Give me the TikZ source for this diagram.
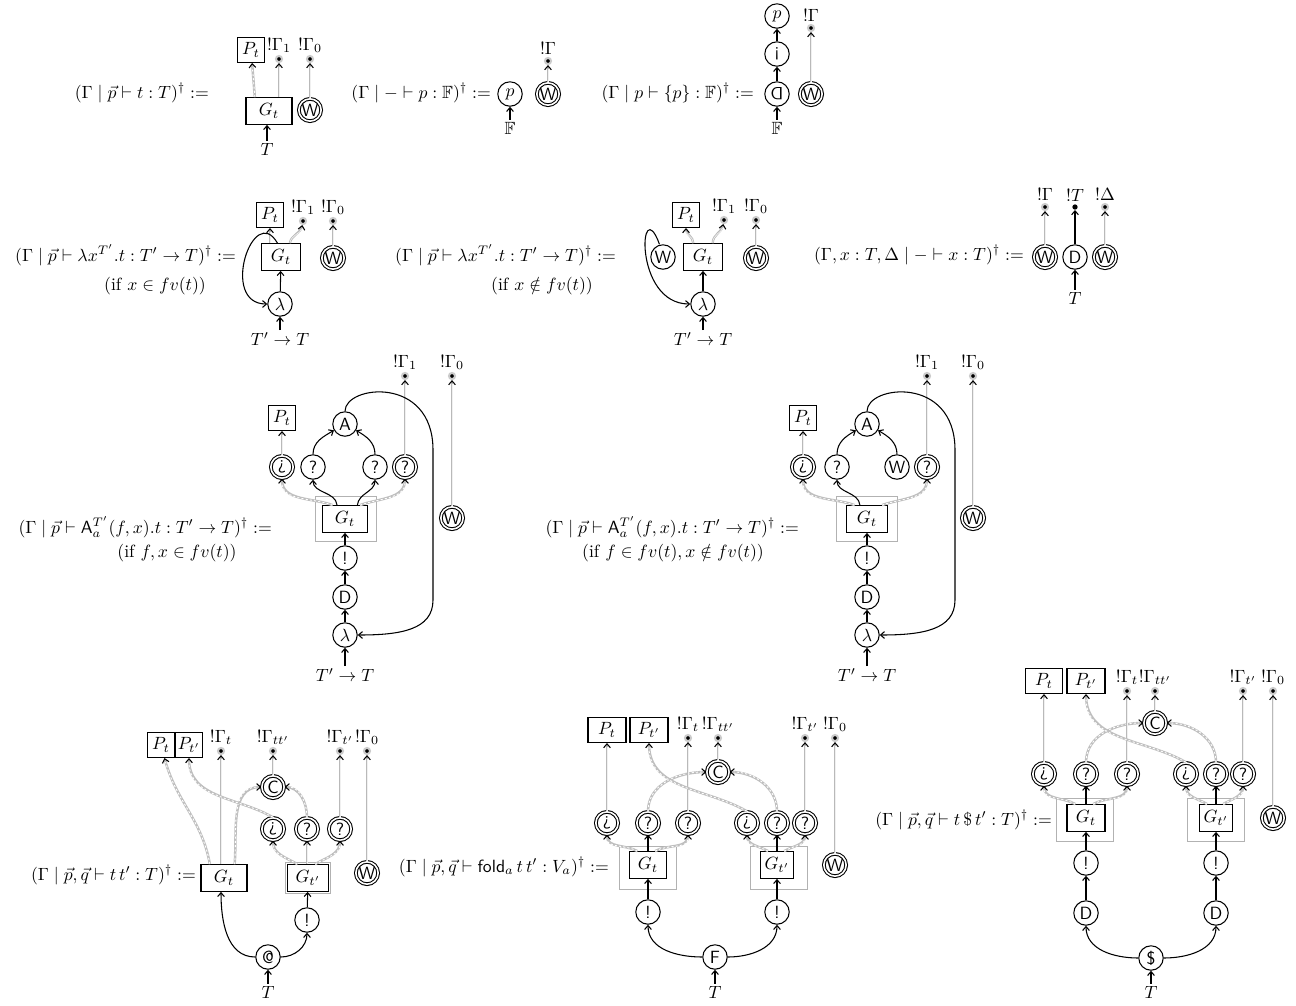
\documentclass[tikz,border=0pt]{standalone}
\usepackage{amsmath,amssymb}
\usepackage{graphicx}
\usetikzlibrary{arrows.meta,positioning}

\begin{document}
\begin{tikzpicture}[
  x=0.565pt,y=0.565pt,
  >={Straight Barb[length=2.2pt,width=3.8pt,line width=0.6pt,color=black]},
  gate/.style={circle,draw,line width=0.6pt,minimum size=13.8pt,inner sep=0pt,font=\sffamily},
  egate/.style={gate,double,double distance=0.9pt,minimum size=12.6pt},
  box/.style={draw,line width=0.7pt,minimum width=22pt,minimum height=15pt,inner sep=1.5pt},
  pbox/.style={draw,line width=0.7pt,minimum width=15pt,minimum height=14pt,inner sep=1.2pt},
  gbox/.style={draw=gray!60,line width=0.6pt,inner sep=0pt},
  term/.style={circle,fill=black,draw=gray!40,line width=1.15pt,inner sep=0pt,minimum size=3.45pt},
  bang/.style={term,label={[lab]above:$!#1$}},
  tdot/.style={circle,fill=black,inner sep=0pt,minimum size=3pt},
  lab/.style={inner sep=1pt},
  rule/.style={anchor=east,inner sep=1pt},
  arr/.style={->,line width=0.6pt},
  garr/.style={->,draw=gray!55,line width=1.3pt,postaction={draw=gray!12,line width=0.4pt,-,shorten >=2.4pt}},
  darr/.style={->,draw=gray!50,line width=1.4pt,postaction={draw=white,line width=0.5pt,-,dash pattern=on 1.2pt off 1.2pt,shorten >=2.4pt}}
]
\useasboundingbox (0,0) rectangle (1296,-1005);

% (Gamma | p |- t : T)
\node[rule] (r1) at (211,-93) {$(\Gamma \mid \vec{p} \vdash t : T)^\dagger :=$};
\node[pbox] (p1) at (251,-50) {$P_t$};
\node[bang=\Gamma_1] (d1a) at (279,-59) {};
\node[bang=\Gamma_0] (d1b) at (310,-59) {};
\node[box,minimum width=26pt] (g1) at (269,-111) {$G_t$};
\node[egate] (w1) at (310,-110) {W};
\node[lab] (t1) at (267,-149) {$T$};
\draw[arr] (t1) -- (t1 |- g1.south);
\draw[darr] ([xshift=-8pt]g1.north) -- (p1);
\draw[garr] (g1.north -| d1a) -- (d1a);
\draw[garr] (w1) -- (d1b);

% (Gamma | - |- p : F)
\node[rule] (r2) at (493,-93) {$(\Gamma \mid - \vdash p : \mathbb{F})^\dagger :=$};
\node[gate] (p2) at (510,-94) {$p$};
\node[lab] (f2) at (510,-128) {$\mathbb{F}$};
\node[egate] (w2) at (548,-94) {W};
\node[bang=\Gamma] (d2) at (548,-61) {};
\draw[arr] (f2) -- (p2);
\draw[garr] (w2) -- (d2);

% (Gamma | p |- {p} : F)
\node[rule] (r3) at (756,-93) {$(\Gamma \mid p \vdash \{p\} : \mathbb{F})^\dagger :=$};
\node[gate] (u3) at (777,-94) {\rotatebox[origin=c]{180}{D}};
\node[gate] (i3) at (777,-54) {¡};
\node[gate] (p3) at (777,-16) {$p$};
\node[lab] (f3) at (777,-128) {$\mathbb{F}$};
\node[egate] (w3) at (811,-94) {W};
\node[bang=\Gamma] (d3) at (811,-28) {};
\draw[arr] (f3) -- (u3);
\draw[arr] (u3) -- (i3);
\draw[arr] (i3) -- (p3);
\draw[garr] (w3) -- (d3);

% lambda, x in fv(t)
\node[rule] (r4) at (238,-255) {$(\Gamma \mid \vec{p} \vdash \lambda x^{T'}.t : T' \to T)^\dagger :=$};
\node[lab] (c4) at (155,-286) {(if $x \in fv(t)$)};
\node[pbox] (p4) at (270,-215) {$P_t$};
\node[bang=\Gamma_1] (d4a) at (303,-221) {};
\node[bang=\Gamma_0] (d4b) at (333,-221) {};
\node[box] (g4) at (281,-257) {$G_t$};
\node[egate] (w4) at (333,-258) {W};
\node[gate] (l4) at (280,-304) {$\lambda$};
\node[lab] (t4) at (280,-339) {$T' \to T$};
\draw[arr] (t4) -- (l4);
\draw[arr] (l4) -- (g4);
\draw[garr] (g4.north -| p4) -- (p4);
\draw[garr] ([xshift=5pt]g4.north) to[out=80,in=-100] (d4a);
\draw[garr] (w4) -- (d4b);
\draw[arr] ([xshift=-2pt]g4.north) to[out=120,in=180,looseness=2] (l4.west);

% lambda, x not in fv(t)
\node[rule] (r5) at (618,-255) {$(\Gamma \mid \vec{p} \vdash \lambda x^{T'}.t : T' \to T)^\dagger :=$};
\node[lab] (c5) at (542,-286) {(if $x \notin fv(t)$)};
\node[pbox] (p5) at (686,-215) {$P_t$};
\node[bang=\Gamma_1] (d5a) at (724,-220) {};
\node[bang=\Gamma_0] (d5b) at (756,-220) {};
\node[gate] (v5) at (663,-257) {W};
\node[box] (g5) at (703,-257) {$G_t$};
\node[egate] (w5) at (756,-258) {W};
\node[gate] (l5) at (703,-304) {$\lambda$};
\node[lab] (t5) at (703,-339) {$T' \to T$};
\draw[arr] (t5) -- (l5);
\draw[arr] (l5) -- (g5);
\draw[garr] ([xshift=-5.5pt]g5.north) to[out=90,in=-90] (p5);
\draw[garr] ([xshift=5.5pt]g5.north) to[out=90,in=-100] (d5a);
\draw[garr] (w5) -- (d5b);
\draw[arr] ([xshift=-2pt]v5.north) to[out=110,in=180,looseness=2.2] (l5.west);

% variable
\node[rule] (r6) at (1026,-255) {$(\Gamma, x : T, \Delta \mid - \vdash x : T)^\dagger :=$};
\node[egate] (w6a) at (1045,-257) {W};
\node[gate] (x6) at (1075,-257) {D};
\node[egate] (w6b) at (1105,-257) {W};
\node[bang=\Gamma] (d6a) at (1045,-207) {};
\node[tdot,label={[lab]above:$!T$}] (d6b) at (1075,-207) {};
\node[bang=\Delta] (d6c) at (1105,-207) {};
\node[lab] (t6) at (1075,-298) {$T$};
\draw[arr] (t6) -- (x6);
\draw[arr] (x6) -- (d6b);
\draw[garr] (w6a) -- (d6a);
\draw[garr] (w6b) -- (d6c);

% A, f and x in fv(t)
\node[rule] (r7) at (274,-527) {$(\Gamma \mid \vec{p} \vdash \mathsf{A}_a^{T'}(f,x).t : T' \to T)^\dagger :=$};
\node[lab] (c7) at (177,-553) {(if $f, x \in fv(t)$)};
\node[pbox] (p7) at (282,-418) {$P_t$};
\node[gate] (a7) at (345,-424) {A};
\node[egate] (e7a) at (282,-467) {¿};
\node[gate] (q7a) at (313,-467) {?};
\node[gate] (q7b) at (375,-467) {?};
\node[egate] (e7b) at (405,-467) {?};
\node[bang=\Gamma_1] (d7a) at (405,-376) {};
\node[bang=\Gamma_0] (d7b) at (452,-376) {};
\node[egate] (w7) at (452,-518) {W};
\node[gbox,minimum width=34.5pt,minimum height=25pt] (b7) at (346,-519) {};
\node[box,minimum width=25pt] (g7) at (345,-519) {$G_t$};
\node[gate] (o7) at (345,-558) {!};
\node[gate] (x7) at (345,-597) {D};
\node[gate] (l7) at (345,-635) {$\lambda$};
\node[lab] (t7) at (345,-675) {$T' \to T$};
\draw[arr] (t7) -- (l7);
\draw[arr] (l7) -- (x7);
\draw[arr] (x7) -- (o7);
\draw[arr] (o7) -- (g7);
\draw[arr] ([xshift=-4.5pt]g7.north) to[out=95,in=-90] (q7a);
\draw[arr] ([xshift=7pt]g7.north) to[out=85,in=-90] (q7b);
\draw[darr] ([xshift=-7pt]g7.north) to[out=160,in=-90] (e7a);
\draw[darr] ([xshift=8.5pt]g7.north) to[out=20,in=-90] (e7b);
\draw[arr] (q7a) to[out=90,in=210] (a7);
\draw[arr] (q7b) to[out=90,in=-30] (a7);
\draw[garr] (e7a) -- (p7);
\draw[garr] (e7b) -- (d7a);
\draw[garr] (w7) -- (d7b);
\draw[arr] (a7.north) .. controls (345,-385) and (433,-375) .. (433,-450) -- (433,-600) .. controls (433,-630) and (400,-635) .. (l7.east);

% A, f in fv(t), x not in fv(t)
\node[rule] (r8) at (801,-527) {$(\Gamma \mid \vec{p} \vdash \mathsf{A}_a^{T'}(f,x).t : T' \to T)^\dagger :=$};
\node[lab] (c8) at (673,-553) {(if $f \in fv(t), x \notin fv(t)$)};
\node[pbox] (p8) at (803,-418) {$P_t$};
\node[gate] (a8) at (867,-424) {A};
\node[egate] (e8a) at (803,-467) {¿};
\node[gate] (q8a) at (837,-467) {?};
\node[gate] (v8) at (897,-467) {W};
\node[egate] (e8b) at (927,-467) {?};
\node[bang=\Gamma_1] (d8a) at (927,-376) {};
\node[bang=\Gamma_0] (d8b) at (973,-376) {};
\node[egate] (w8) at (973,-518) {W};
\node[gbox,minimum width=34.5pt,minimum height=25pt] (b8) at (867,-519) {};
\node[box,minimum width=23.5pt] (g8) at (867,-519) {$G_t$};
\node[gate] (o8) at (867,-558) {!};
\node[gate] (x8) at (867,-597) {D};
\node[gate] (l8) at (867,-635) {$\lambda$};
\node[lab] (t8) at (867,-675) {$T' \to T$};
\draw[arr] (t8) -- (l8);
\draw[arr] (l8) -- (x8);
\draw[arr] (x8) -- (o8);
\draw[arr] (o8) -- (g8);
\draw[arr] ([xshift=-4pt]g8.north) to[out=95,in=-90] (q8a);
\draw[darr] ([xshift=-7pt]g8.north) to[out=160,in=-90] (e8a);
\draw[darr] ([xshift=8.5pt]g8.north) to[out=20,in=-90] (e8b);
\draw[arr] (q8a) to[out=90,in=210] (a8);
\draw[arr] (v8) to[out=90,in=-30] (a8);
\draw[garr] (e8a) -- (p8);
\draw[garr] (e8b) -- (d8a);
\draw[garr] (w8) -- (d8b);
\draw[arr] (a8.north) .. controls (867,-385) and (955,-375) .. (955,-450) -- (955,-600) .. controls (955,-630) and (922,-635) .. (l8.east);

% application
\node[rule] (r9) at (198,-875) {$(\Gamma \mid \vec{p},\vec{q} \vdash t\,t' : T)^\dagger :=$};
\node[pbox] (p9a) at (161,-745) {$P_t$};
\node[pbox] (p9b) at (189,-745) {$P_{t'}$};
\node[bang=\Gamma_t] (d9a) at (221,-751) {};
\node[bang=\Gamma_{tt'}] (d9b) at (273,-751) {};
\node[bang=\Gamma_{t'}] (d9c) at (340,-751) {};
\node[bang=\Gamma_0] (d9d) at (367,-751) {};
\node[egate] (k9) at (273,-787) {C};
\node[egate] (e9a) at (273,-829) {¿};
\node[egate] (e9b) at (307,-829) {?};
\node[egate] (e9c) at (340,-829) {?};
\node[box,minimum width=26pt] (g9a) at (224,-878) {$G_t$};
\node[gbox,minimum width=25pt,minimum height=17.5pt] (b9) at (308,-878) {};
\node[box,minimum width=23pt] (g9b) at (308,-878) {$G_{t'}$};
\node[egate] (w9) at (367,-873) {W};
\node[gate] (o9) at (307,-920) {!};
\node[gate] (m9) at (268,-957) {@};
\node[lab] (t9) at (268,-992) {$T$};
\draw[arr] (t9) -- (m9);
\draw[arr] (m9.west) to[out=180,in=-90] (g9a.south -| d9a);
\draw[arr] (m9.east) to[out=0,in=-90] (o9);
\draw[arr] (o9) -- (g9b);
\draw[darr] ([xshift=-8pt]g9a.north) to[out=100,in=-75] (p9a);
\draw[garr] (g9a.north -| d9a) -- (d9a);
\draw[darr] ([xshift=6pt]g9a.north) to[out=85,in=180] (k9);
\draw[darr] ([xshift=-6pt]g9b.north) to[out=150,in=-90] (e9a);
\draw[garr] (g9b.north -| e9b) -- (e9b);
\draw[darr] ([xshift=4pt]g9b.north) to[out=30,in=-90] (e9c);
\draw[darr] (e9a.north) to[out=150,in=-90] (p9b);
\draw[darr] (e9b) to[out=90,in=0] (k9);
\draw[garr] (e9c) -- (d9c);
\draw[garr] (k9) -- (d9b);
\draw[garr] (w9) -- (d9d);

% fold
\node[rule] (r10) at (611,-867) {$(\Gamma \mid \vec{p},\vec{q} \vdash \mathsf{fold}_a\,t\,t' : V_a)^\dagger :=$};
\node[pbox,minimum width=21.5pt] (p10a) at (607,-730) {$P_t$};
\node[pbox,minimum width=21.5pt] (p10b) at (649,-730) {$P_{t'}$};
\node[bang=\Gamma_t] (d10a) at (688,-738) {};
\node[bang=\Gamma_{tt'}] (d10b) at (718,-738) {};
\node[bang=\Gamma_{t'}] (d10c) at (805,-738) {};
\node[bang=\Gamma_0] (d10d) at (835,-738) {};
\node[egate] (k10) at (718,-772) {C};
\node[egate] (e10a) at (607,-823) {¿};
\node[egate] (e10b) at (648,-823) {?};
\node[egate] (e10c) at (688,-823) {?};
\node[egate] (e10d) at (747,-823) {¿};
\node[egate] (e10e) at (777,-823) {?};
\node[egate] (e10f) at (805,-823) {?};
\node[gbox,minimum width=32pt,minimum height=24.5pt] (b10a) at (648,-868) {};
\node[gbox,minimum width=32pt,minimum height=24.5pt] (b10b) at (779,-868) {};
\node[box,minimum width=21pt] (g10a) at (648,-865) {$G_t$};
\node[box,minimum width=18.5pt] (g10b) at (777,-865) {$G_{t'}$};
\node[egate] (w10) at (835,-865) {W};
\node[gate] (o10a) at (648,-912) {!};
\node[gate] (o10b) at (777,-912) {!};
\node[gate] (f10) at (715,-957) {F};
\node[lab] (t10) at (715,-992) {$T$};
\draw[arr] (t10) -- (f10);
\draw[arr] (f10.west) to[out=180,in=-90] (o10a);
\draw[arr] (f10.east) to[out=0,in=-90] (o10b);
\draw[arr] (o10a) -- (g10a);
\draw[arr] (o10b) -- (g10b);
\draw[darr] ([xshift=-6pt]g10a.north) to[out=150,in=-90] (e10a);
\draw[arr] (g10a) -- (e10b);
\draw[darr] ([xshift=4pt]g10a.north) to[out=30,in=-90] (e10c);
\draw[darr] ([xshift=-5pt]g10b.north) to[out=150,in=-90] (e10d);
\draw[arr] (g10b) -- (e10e);
\draw[darr] ([xshift=4pt]g10b.north) to[out=30,in=-90] (e10f);
\draw[garr] (e10a) -- (p10a);
\draw[darr] (e10b) to[out=90,in=180] (k10);
\draw[garr] (e10c) -- (d10a);
\draw[darr] (e10d.north) to[out=150,in=-90] (p10b);
\draw[darr] (e10e) to[out=90,in=0] (k10);
\draw[garr] (e10f) -- (d10c);
\draw[garr] (k10) -- (d10b);
\draw[garr] (w10) -- (d10d);

% strict application
\node[rule] (r11) at (1054,-820) {$(\Gamma \mid \vec{p},\vec{q} \vdash t\,\$\,t' : T)^\dagger :=$};
\node[pbox,minimum width=20.5pt] (p11a) at (1044,-681) {$P_t$};
\node[pbox,minimum width=21.5pt] (p11b) at (1086,-681) {$P_{t'}$};
\node[bang=\Gamma_t] (d11a) at (1127,-691) {};
\node[bang=\Gamma_{tt'}] (d11b) at (1155,-691) {};
\node[bang=\Gamma_{t'}] (d11c) at (1243,-691) {};
\node[bang=\Gamma_0] (d11d) at (1273,-691) {};
\node[egate] (k11) at (1155,-723) {C};
\node[egate] (e11a) at (1044,-774) {¿};
\node[egate] (e11b) at (1086,-774) {?};
\node[egate] (e11c) at (1127,-774) {?};
\node[egate] (e11d) at (1186,-774) {¿};
\node[egate] (e11e) at (1216,-774) {?};
\node[egate] (e11f) at (1243,-774) {?};
\node[gbox,minimum width=32pt,minimum height=24.5pt] (b11a) at (1085,-820) {};
\node[gbox,minimum width=32pt,minimum height=24.5pt] (b11b) at (1216,-820) {};
\node[box,minimum width=21.5pt] (g11a) at (1086,-818) {$G_t$};
\node[box,minimum width=19pt] (g11b) at (1216,-818) {$G_{t'}$};
\node[egate] (w11) at (1273,-818) {W};
\node[gate] (o11a) at (1086,-863) {!};
\node[gate] (o11b) at (1216,-863) {!};
\node[gate] (x11a) at (1086,-913) {D};
\node[gate] (x11b) at (1216,-913) {D};
\node[gate] (s11) at (1151,-958) {\$};
\node[lab] (t11) at (1151,-992) {$T$};
\draw[arr] (t11) -- (s11);
\draw[arr] (s11.west) to[out=180,in=-90] (x11a);
\draw[arr] (s11.east) to[out=0,in=-90] (x11b);
\draw[arr] (x11a) -- (o11a);
\draw[arr] (x11b) -- (o11b);
\draw[arr] (o11a) -- (g11a);
\draw[arr] (o11b) -- (g11b);
\draw[darr] ([xshift=-6pt]g11a.north) to[out=150,in=-90] (e11a);
\draw[arr] (g11a) -- (e11b);
\draw[darr] ([xshift=4pt]g11a.north) to[out=30,in=-90] (e11c);
\draw[darr] ([xshift=-5pt]g11b.north) to[out=150,in=-90] (e11d);
\draw[arr] (g11b) -- (e11e);
\draw[darr] ([xshift=4pt]g11b.north) to[out=30,in=-90] (e11f);
\draw[garr] (e11a) -- (p11a);
\draw[darr] (e11b) to[out=90,in=180] (k11);
\draw[garr] (e11c) -- (d11a);
\draw[darr] (e11d.north) to[out=150,in=-90] (p11b);
\draw[darr] (e11e) to[out=90,in=0] (k11);
\draw[garr] (e11f) -- (d11c);
\draw[garr] (k11) -- (d11b);
\draw[garr] (w11) -- (d11d);
\end{tikzpicture}
\end{document}
